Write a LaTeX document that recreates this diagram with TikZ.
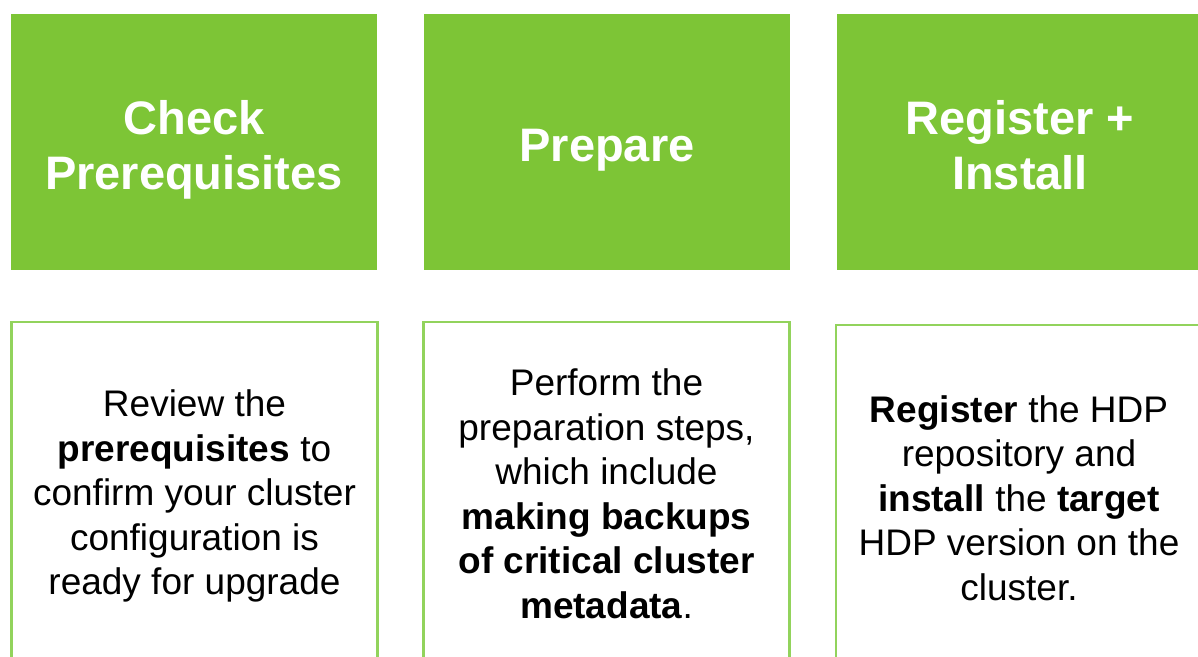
\documentclass[tikz,border=0pt]{standalone}
\usepackage{fontspec}
\setmainfont{Liberation Sans}
\definecolor{hgreen}{HTML}{7DC536}
\definecolor{lgreen}{HTML}{92D35C}
\begin{document}
\begin{tikzpicture}[x=1pt,y=1pt,
  head/.style={fill=hgreen, draw=none, minimum width=366pt, minimum height=256pt,
    inner sep=0pt},
  headtext/.style={text=white, align=center, inner sep=0pt,
    font=\fontsize{47}{55}\selectfont\bfseries},
  body/.style={draw=lgreen, line width=2.5pt, fill=white, minimum width=366pt,
    inner sep=0pt, align=center,
    font=\fontsize{37}{44.5}\selectfont}]
\useasboundingbox (0,0) rectangle (1198,656);
\clip (0,0) rectangle (1198,656);
% headers (y = 656 - pixel y)
\node[head] (h1) at (194,514) {};
\node[head] (h2) at (607,514) {};
\node[head] (h3) at (1020,514) {};
\node[headtext] (t1) at ([yshift=-8pt]h1.center) {Check\\Prerequisites};
\node[headtext] (t2) at ([yshift=-8pt]h2.center) {Prepare};
\node[headtext] (t3) at ([yshift=-3pt]h3.center) {Register +\\Install};
% bodies
\node[body, minimum height=348pt] (b1) at (194.5,160) {Review the\\\textbf{prerequisites} to\\confirm your cluster\\configuration is\\ready for upgrade};
\node[body, minimum height=344pt] (b2) at (606.5,162) {Perform the\\preparation steps,\\which include\\\textbf{making backups}\\\textbf{of critical cluster}\\\textbf{metadata}.};
\node[body, minimum height=346pt] (b3) at (1019,158) {\textbf{Register} the HDP\\repository and\\\textbf{install} the \textbf{target}\\HDP version on the\\cluster.};
\end{tikzpicture}
\end{document}
